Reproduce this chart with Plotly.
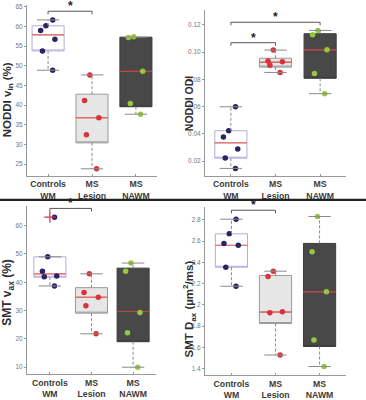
import plotly.graph_objects as go

W, H = 366, 400

# ---------------- data ----------------
categories = ["Controls<br>WM", "MS<br>Lesion", "MS<br>NAWM"]

# NODDI v_in (%)
vin_controls = [61.7, 60.2, 59.0, 56.8, 53.8, 48.9]
vin_lesion = [47.7, 41.2, 36.8, 32.5, 23.8]
vin_nawm = [57.4, 57.2, 48.6, 40.4, 37.7]
vin_q1 = [53.8, 30.4, 39.6]
vin_med = [57.9, 36.8, 48.6]
vin_q3 = [60.2, 42.8, 57.3]
vin_lo = [48.9, 23.8, 37.7]
vin_hi = [61.7, 47.7, 57.3]

# NODDI ODI
odi_controls = [0.0599, 0.0423, 0.0378, 0.0289, 0.0224, 0.0147]
odi_lesion = [0.1015, 0.0935, 0.0930, 0.0904, 0.0851]
odi_nawm = [0.1159, 0.1128, 0.1017, 0.0844, 0.0695]
odi_q1 = [0.0222, 0.0890, 0.0808]
odi_med = [0.0335, 0.0926, 0.1017]
odi_q3 = [0.0423, 0.0955, 0.1135]
odi_lo = [0.0147, 0.0851, 0.0695]
odi_hi = [0.0599, 0.1015, 0.1159]

# SMT v_ax (%)
vax_controls = [63.0, 49.0, 43.9, 42.2, 42.0, 38.7]
vax_lesion = [43.0, 36.4, 34.7, 31.7, 21.8]
vax_nawm = [46.8, 43.9, 29.3, 22.2, 10.0]
vax_q1 = [41.8, 29.1, 19.0]
vax_med = [43.0, 34.7, 29.7]
vax_q3 = [49.0, 38.1, 45.0]
vax_lo = [38.7, 21.8, 10.0]
vax_hi = [49.0, 43.0, 46.8]
vax_outliers_controls = [63.0]

# SMT D_ax (um2/ms)
dax_controls = [2.806, 2.668, 2.578, 2.560, 2.354, 2.176]
dax_lesion = [2.317, 2.268, 1.936, 1.926, 1.529]
dax_nawm = [2.831, 2.499, 2.123, 1.671, 1.421]
dax_q1 = [2.354, 1.825, 1.609]
dax_med = [2.560, 1.933, 2.123]
dax_q3 = [2.668, 2.277, 2.578]
dax_lo = [2.176, 1.529, 1.421]
dax_hi = [2.806, 2.317, 2.831]

# ---------------- styles ----------------
PT_COLORS = ["#2b2461", "#d8323c", "#9ac53f"]
BOX_FILL = ["#ffffff", "#e6e6e6", "#484848"]
BOX_LINE = ["#b3acdc", "#9a9a9a", "#3c3c3c"]
MED_LINE = ["#e07a7a", "#e06a6a", "#b24a4a"]
WHISK = "#8a8a8a"
FONT = "Liberation Sans"

fig = go.Figure()


def px_dom_x(a, b):
    return [a / W, b / W]


def px_dom_y(top, bottom):
    return [1 - bottom / H, 1 - top / H]


panels = [
    dict(pts=[vin_controls, vin_lesion, vin_nawm], q1=vin_q1, med=vin_med, q3=vin_q3,
         lo=vin_lo, hi=vin_hi, xd=(27, 157), yd=(3, 177), xr=[-0.48, 2.48], yr=[22, 65.5],
         dtick=5, tickfmt=None, width=0.73,
         title="NODDI v<sub>in</sub> (%)", tx=8, ty=100, tsize=11.5,
         brackets=[(0, 1, 63.9)]),
    dict(pts=[odi_controls, odi_lesion, odi_nawm], q1=odi_q1, med=odi_med, q3=odi_q3,
         lo=odi_lo, hi=odi_hi, xd=(205, 346), yd=(8, 177), xr=[-0.58, 2.58], yr=[0.0092, 0.131],
         dtick=0.02, tickfmt=".2f", width=0.72,
         title="NODDI ODI", tx=189, ty=103, tsize=10.5,
         brackets=[(0, 1, 0.1069), (0, 2, 0.1219)]),
    dict(pts=[vax_controls, vax_lesion, vax_nawm], q1=vax_q1, med=vax_med, q3=vax_q3,
         lo=vax_lo, hi=vax_hi, xd=(27, 156), yd=(207.5, 379), xr=[-0.55, 2.55], yr=[7.47, 67],
         dtick=10, tickfmt=None, width=0.77,
         title="SMT v<sub>ax</sub> (%)", tx=8, ty=296, tsize=12,
         brackets=[(0, 1, 66.1)]),
    dict(pts=[dax_controls, dax_lesion, dax_nawm], q1=dax_q1, med=dax_med, q3=dax_q3,
         lo=dax_lo, hi=dax_hi, xd=(205, 346), yd=(208.7, 380), xr=[-0.6, 2.6], yr=[1.338, 2.92],
         dtick=0.2, tickfmt=None, width=0.73,
         title="SMT D<sub>ax</sub> (µm<sup>2</sup>/ms)", tx=189, ty=313, tsize=11.5,
         brackets=[(0, 1, 2.89)]),
]

shapes = []
annotations = []

for k, p in enumerate(panels):
    xa = "x" if k == 0 else f"x{k+1}"
    ya = "y" if k == 0 else f"y{k+1}"
    for i in range(3):
        # dashed whiskers (from box edges to fences)
        fig.add_trace(go.Scatter(
            x=[i, i, None, i, i],
            y=[p["q3"][i], p["hi"][i], None, p["q1"][i], p["lo"][i]],
            mode="lines", line=dict(color=WHISK, width=1, dash="3px,2px"),
            hoverinfo="skip", showlegend=False, xaxis=xa, yaxis=ya))
        # whisker caps
        fig.add_trace(go.Scatter(
            x=[i, i], y=[p["hi"][i], p["lo"][i]], mode="markers",
            marker=dict(symbol="line-ew", size=16, line=dict(color=WHISK, width=1)),
            hoverinfo="skip", showlegend=False, xaxis=xa, yaxis=ya))
        # box body
        fig.add_trace(go.Box(
            x=[i], q1=[p["q1"][i]], median=[p["q1"][i]], q3=[p["q3"][i]],
            lowerfence=[p["q1"][i]], upperfence=[p["q3"][i]],
            width=p["width"], whiskerwidth=0,
            line=dict(color=BOX_LINE[i], width=1), fillcolor=BOX_FILL[i],
            boxpoints=False, hoverinfo="skip", showlegend=False, xaxis=xa, yaxis=ya))
        # median line
        m = p["med"][i]
        fig.add_trace(go.Box(
            x=[i], q1=[m], median=[m], q3=[m], lowerfence=[m], upperfence=[m],
            width=p["width"], whiskerwidth=0,
            line=dict(color=MED_LINE[i], width=1), fillcolor="rgba(0,0,0,0)",
            boxpoints=False, hoverinfo="skip", showlegend=False, xaxis=xa, yaxis=ya))
        # individual points (library jitter)
        vals = p["pts"][i]
        fig.add_trace(go.Box(
            x=[i] * len(vals), y=vals, width=p["width"],
            boxpoints="all", jitter=0.55, pointpos=0,
            line=dict(color="rgba(0,0,0,0)", width=0), fillcolor="rgba(0,0,0,0)",
            marker=dict(color=PT_COLORS[i], size=5.5),
            hoverinfo="y", showlegend=False, xaxis=xa, yaxis=ya))

    if k == 2:
        fig.add_trace(go.Scatter(
            x=[0] * len(vax_outliers_controls), y=vax_outliers_controls, mode="markers",
            marker=dict(symbol="cross-thin", size=8, line=dict(color="#d8323c", width=1.2)),
            showlegend=False, hoverinfo="skip", xaxis=xa, yaxis=ya))

    axx = dict(domain=px_dom_x(*p["xd"]), range=p["xr"], tickmode="array",
               tickvals=[0, 1, 2], ticktext=["<b>%s</b>" % c for c in categories],
               ticks="inside", ticklen=2, tickcolor="#999", showline=True, linecolor="#999",
               linewidth=1, showgrid=False, zeroline=False, anchor=ya,
               tickfont=dict(family=FONT, size=8.7, color="#3a3a3a"), fixedrange=True)
    axy = dict(domain=px_dom_y(*p["yd"]), range=p["yr"], dtick=p["dtick"],
               ticks="outside", ticklen=2, tickcolor="#999", showline=True, linecolor="#999",
               linewidth=1, showgrid=False, zeroline=False, anchor=xa,
               tickfont=dict(family=FONT, size=6.5, color="#777"), fixedrange=True)
    if p["tickfmt"]:
        axy["tickformat"] = p["tickfmt"]
    suffix = "" if k == 0 else str(k + 1)
    fig.layout["xaxis" + suffix] = axx
    fig.layout["yaxis" + suffix] = axy

    annotations.append(dict(
        text="<b>%s</b>" % p["title"], xref="paper", yref="paper",
        x=p["tx"] / W, y=1 - p["ty"] / H, xanchor="center", yanchor="middle",
        textangle=-90, showarrow=False,
        font=dict(family=FONT, size=p["tsize"], color="#2e2e2e")))

    drop = (p["yr"][1] - p["yr"][0]) * 0.018
    for (a, b, yb) in p["brackets"]:
        path = f"M {a},{yb - drop} L {a},{yb} L {b},{yb} L {b},{yb - drop}"
        shapes.append(dict(type="path", path=path, xref=xa, yref=ya,
                           line=dict(color="#555", width=1)))
        annotations.append(dict(text="<b>*</b>", x=(a + b) / 2, y=yb, xref=xa, yref=ya,
                                yanchor="bottom", showarrow=False, yshift=-4,
                                font=dict(family=FONT, size=12, color="#222")))

# separator between the two rows
shapes.append(dict(type="line", xref="paper", yref="paper", x0=0, x1=1,
                   y0=1 - 201.5 / H, y1=1 - 201.5 / H,
                   line=dict(color="#222", width=2.2)))

fig.update_layout(
    width=W, height=H, margin=dict(l=0, r=0, t=0, b=0),
    paper_bgcolor="white", plot_bgcolor="white",
    boxmode="overlay", showlegend=False,
    shapes=shapes, annotations=annotations,
)

fig.write_html("out.html", config={"displayModeBar": False},
               post_script="document.body.style.margin='0px';document.body.style.overflow='hidden';")
